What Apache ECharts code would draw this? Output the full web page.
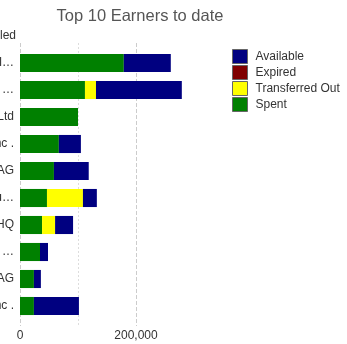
<!DOCTYPE html>
<html><head><meta charset="utf-8">
<script src="https://cdn.jsdelivr.net/npm/echarts@6/dist/echarts.min.js"></script>
<style>html,body{margin:0;padding:0;background:#fff}#c{width:347px;height:344px}</style>
</head><body><div id="c"></div>
<script>
const categories = ['Global Services Intl…','Northern Holdings Co. …','Acme Partners Ltd','Vector Systems Inc .','Bauer Technik AG','Contoso Group Eu…','Summit Finance HQ','Orbit Consulting …','Müller Industrie AG','Pioneer Labs Inc .'];
const spent       = [179000,112000,100000,67000,58500,46500,38000,34500,24000,24000];
const transferred = [0,19000,0,0,0,62000,22500,0,0,0];
const expired     = [0,0,0,0,0,0,0,0,0,0];
const available   = [81000,148000,0,38000,60000,24000,31000,13800,12000,77600];
const xTicks = [0,200000];

const font = 'Liberation Sans';
const chart = echarts.init(document.getElementById('c'));
const L = 20, W = 174;
chart.setOption({
  animation:false,
  textStyle:{fontFamily:font},
  title:{text:'Top 10 Earners to date',left:135,textAlign:'center',top:3,
    textStyle:{fontFamily:font,fontSize:16.5,fontWeight:'normal',color:'#555'}},
  legend:{orient:'vertical',left:227,top:44,itemWidth:15,itemHeight:14,itemGap:1,
    icon:'rect',data:['Available','Expired','Transferred Out','Spent'],
    itemStyle:{borderColor:'#666',borderWidth:1},
    textStyle:{fontFamily:font,fontSize:12,color:'#333',padding:[0,0,0,3]}},
  grid:[
    {left:L,width:W,top:43,height:283,containLabel:false,outerBoundsMode:'none'},
    {left:L,width:W,top:49.5,height:270,containLabel:false,outerBoundsMode:'none'}
  ],
  xAxis:[
    {type:'value',gridIndex:0,min:0,max:300000,interval:200000,
     axisLine:{show:false},axisTick:{show:false},
     axisLabel:{showMaxLabel:false,fontFamily:font,fontSize:12,color:'#333',margin:4,
       formatter:v=>xTicks.includes(v)?v.toLocaleString('en-US'):''},
     splitLine:{show:true,lineStyle:{type:'dashed',color:['#ccc','#ccc','rgba(0,0,0,0)']}}},
    {type:'value',gridIndex:0,min:0,max:300000,interval:100000,
     axisLine:{show:false},axisTick:{show:false},axisLabel:{show:false},
     splitLine:{show:true,lineStyle:{type:[2,2],color:['rgba(0,0,0,0)','#ddd','rgba(0,0,0,0)','rgba(0,0,0,0)']}}},
    {type:'value',gridIndex:1,min:0,max:300000,show:false}
  ],
  yAxis:[
    {type:'category',gridIndex:0,show:false,data:categories},
    {type:'category',gridIndex:1,inverse:true,data:categories,
     name:'Employer Enabled',nameLocation:'start',nameGap:8,
     nameTextStyle:{fontFamily:font,fontSize:12,color:'#333',align:'right',padding:[0,4,0,0]},
     axisLine:{show:false},axisTick:{show:false},
     axisLabel:{fontFamily:font,fontSize:12,color:'#333',margin:6}}
  ],
  series:[
    {name:'Spent',type:'bar',stack:'t',xAxisIndex:2,yAxisIndex:1,data:spent,itemStyle:{color:'#008000'},barCategoryGap:'33%'},
    {name:'Transferred Out',type:'bar',stack:'t',xAxisIndex:2,yAxisIndex:1,data:transferred,itemStyle:{color:'#ffff00'}},
    {name:'Expired',type:'bar',stack:'t',xAxisIndex:2,yAxisIndex:1,data:expired,itemStyle:{color:'#800000'}},
    {name:'Available',type:'bar',stack:'t',xAxisIndex:2,yAxisIndex:1,data:available,itemStyle:{color:'#000080'}}
  ]
});
</script></body></html>
